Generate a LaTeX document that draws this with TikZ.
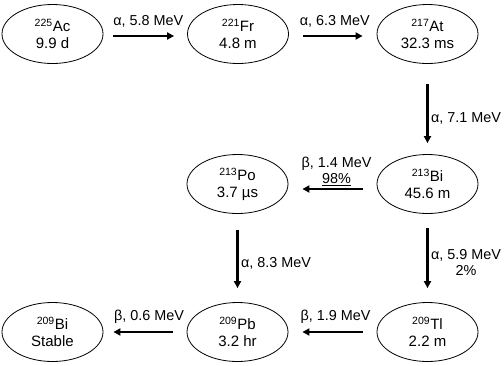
\documentclass[tikz,border=0pt]{standalone}
\usepackage{fontspec}
\setmainfont{Liberation Sans}
\usetikzlibrary{shapes.geometric, arrows.meta}

\begin{document}
\begin{tikzpicture}[x=1pt, y=-1pt,
    isotope/.style={draw, ellipse, line width=0.8pt, minimum width=101pt,
        minimum height=59pt, inner sep=0pt, align=center,
        font=\fontsize{15}{17}\selectfont},
    decay/.style={-{Triangle[length=7pt,width=7pt]}, line width=2.2pt,
        shorten <=14pt, shorten >=14pt},
    energy/.style={font=\fontsize{14.4}{16.5}\selectfont, align=center, inner sep=2pt}]
    \useasboundingbox (0,0) rectangle (504,365);
    % Ac chain, top row
    \node[isotope] (ac225) at (52.5,34) {\textsuperscript{225}Ac\\9.9 d};
    \node[isotope] (fr221) at (238,34) {\textsuperscript{221}Fr\\4.8 m};
    \node[isotope] (at217) at (427.5,34) {\textsuperscript{217}At\\32.3 ms};
    % middle row
    \node[isotope] (po213) at (237.5,184) {\textsuperscript{213}Po\\3.7 µs};
    \node[isotope] (bi213) at (427.5,184) {\textsuperscript{213}Bi\\45.6 m};
    % bottom row
    \node[isotope] (bi209) at (52.5,332) {\textsuperscript{209}Bi\\Stable};
    \node[isotope] (pb209) at (237.5,332) {\textsuperscript{209}Pb\\3.2 hr};
    \node[isotope] (tl209) at (427.5,332) {\textsuperscript{209}Tl\\2.2 m};
    % alpha decays
    \draw[decay, shorten <=10pt, shorten >=13pt] ([yshift=-2pt]ac225.east) -- ([yshift=-2pt]fr221.west)
        node[energy, midway, above=5.5pt, xshift=3pt] {α, 5.8 MeV};
    \draw[decay] ([yshift=-2pt]fr221.east) -- ([yshift=-2pt]at217.west)
        node[energy, midway, above=5.5pt, xshift=2pt] {α, 6.3 MeV};
    \draw[decay, shorten <=20pt, shorten >=11pt] (at217) -- (bi213)
        node[energy, pos=0.6, right=0.5pt] {α, 7.1 MeV};
    \draw[decay, shorten <=16pt] (po213) -- (pb209)
        node[energy, pos=0.56, right=0.5pt] {α, 8.3 MeV};
    \draw[decay] (bi213) -- (tl209)
        node[energy, pos=0.55, right=0.5pt] {α, 5.9 MeV\\2\%};
    % beta decays
    \draw[decay] ([yshift=-5pt]bi213.west) -- ([yshift=-5pt]po213.east)
        node[energy, midway, above=0pt, xshift=4pt] {β, 1.4 MeV\\\underline{98\%}};
    \draw[decay] (tl209) -- (pb209)
        node[energy, midway, above=5.5pt, xshift=3pt] {β, 1.9 MeV};
    \draw[decay, shorten >=10pt] (pb209) -- (bi209)
        node[energy, midway, above=5.5pt, xshift=4pt] {β, 0.6 MeV};
\end{tikzpicture}
\end{document}
